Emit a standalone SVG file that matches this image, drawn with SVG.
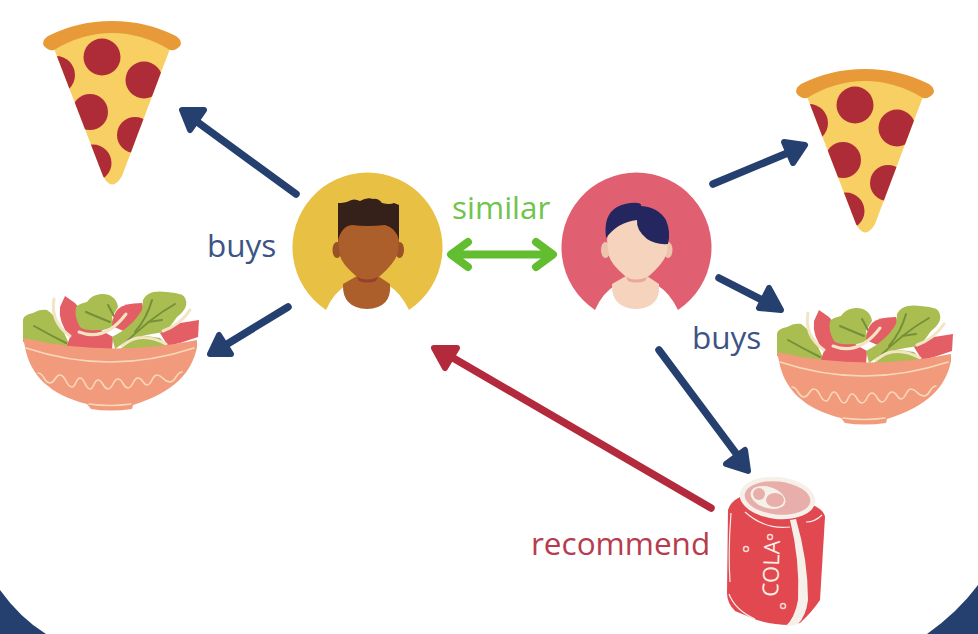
<svg xmlns="http://www.w3.org/2000/svg" width="978" height="634" viewBox="0 0 978 634">
<style>
.lbl{font-family:"Open Sans","Noto Sans",sans-serif;font-size:31.500px}
.blue{fill:#3c5484}
.shaft{fill:none;stroke-width:7.500;stroke-linecap:round}
.head{stroke-width:6;stroke-linejoin:round}
.nv{stroke:#25406f}
.nvf{fill:#25406f}
.rd{stroke:#b32a3c}
.rdf{fill:#b32a3c}
.pep{fill:#ad2c37}
.leaf{fill:#a9bd50}
.vein{fill:none;stroke:#75903a;stroke-width:2;stroke-linecap:round}
.tom{fill:#e35f65}
.cr{fill:none;stroke:#f3e4c4;stroke-width:3;stroke-linecap:round}
.ln{fill:none;stroke:#f8d8bb;stroke-width:1.600;stroke-linecap:round}
.dot{fill:#e2484f;stroke:#f6d9d0;stroke-width:1.500}
</style>
<defs>
<clipPath id="sl"><path d="M53,46 Q112,18 171,46 L122,176 Q112,193 103,176 Z"/></clipPath>
<g id="pizzaShape">
<path d="M53,46 Q112,18 171,46 L122,176 Q112,193 103,176 Z" fill="#f7cf62"/>
<g clip-path="url(#sl)" class="pep">
<circle cx="102" cy="57" r="18.500"/><circle cx="144" cy="80" r="18.500"/><circle cx="90" cy="112" r="18"/><circle cx="135" cy="135" r="18"/><circle cx="56" cy="75" r="19"/><circle cx="93" cy="163" r="18.500"/>
</g>
<path d="M48,36 Q78,21 112,21 Q146,21 176,36 Q183,41 180,46 Q176,51 170,50 Q142,33 112,33 Q82,33 54,50 Q48,51 44,46 Q41,41 48,36 Z" fill="#e89a38"/>
</g>
<g id="saladShape">
<path class="leaf" d="M23,322 C22,316 28,314 33,313 C38,310 43,309 47,310 C56,316 62,326 65,335 L72,350 L23,342 Z"/>
<path class="vein" d="M34,326 Q50,335 66,343"/>
<path class="tom" d="M65,296 L60,307 Q58,322 70,337 L66,348 L112,350 L113,337 Q95,328 85,315 L75,303 Z"/>
<path class="leaf" d="M76,307 C80,303 84,303 87,302 C91,296 97,294 103,294 C110,294 117,298 118,307 L112,317 L114,326 Q105,331 97,330 Q85,331 80,327 Q74,317 76,307 Z"/>
<path class="vein" d="M86,312 Q100,318 110,322 M108,305 L114,316"/>
<path class="tom" d="M112,326 Q113,314 118,309 Q124,303 142,303 L146,318 L128,333 Z"/>
<path class="leaf" d="M143,300 C146,293 154,290 167,292 C176,293 184,294 185,298 C188,304 186,310 177,317 C172,324 168,330 163,332 C150,335 135,335 125,342 L115,349 L112,337 C124,331 135,322 142,310 Z"/>
<path class="vein" d="M175,304 Q150,318 122,346 M152,300 Q147,318 135,332 M162,320 L148,322"/>
<path class="leaf" d="M120,349 L140,335 L160,338 L170,348 Z"/>
<path class="tom" d="M160,333 L180,323 L199,320 L198,337 L180,343 L168,346 Z"/>
<path class="cr" d="M54,299 Q50,322 70,336 M79,332 Q105,342 126,314 M122,346 Q140,330 166,344 M163,331 Q180,325 190,310"/>
<path d="M23,338 Q110,358 197,340 L197,347 C192,372 175,392 133,405 L132,409 Q110,412 91,409 L87,404 C50,395 30,375 25,347 Z" fill="#f29a7c"/>
<path class="ln" d="M26,348 Q110,376 194,348 M89,404 Q110,407 131,404"/>
<path class="ln" d="M38,373 C44,373 44,383 50,383 C55,383 55,375 60,375 C66,375 66,387 72,387 C76,387 76,378 80,378 C85,378 85,389 90,389 C94,389 94,380 98,380 C103,380 103,389 108,389 C113,389 113,379 118,379 C123,379 123,388 128,388 C133,388 133,378 138,378 C143,378 143,385 147,385 C152,385 152,375 157,375 C163,375 163,382 170,382 C176,382 176,372 182,372"/>
</g>
</defs>
<g id="background">
<path d="M0,590 Q20,618 46,634 L0,634 Z" fill="#25406f"/>
<path d="M978,585 Q958,612 927,634 L978,634 Z" fill="#25406f"/>
</g>
<g id="pizza-left"><use href="#pizzaShape"/></g>
<g id="pizza-right"><use href="#pizzaShape" x="753" y="48"/></g>
<g id="salad-left"><use href="#saladShape"/></g>
<g id="salad-right"><use href="#saladShape" x="754" y="14"/></g>
<g id="user-left">
<path d="M326,310 A75,75 0 1 1 409,310 Q401,293 388,285 L347,285 Q334,292 326,310 Z" fill="#e7c044"/>
<path d="M343,284 L357,276 L378,276 L390,284 Q392,308 367,309 Q342,308 343,284 Z" fill="#ad5f2b"/>
<path d="M338,203 Q345,203 349,201 Q354,198 360,201 Q367,197 373,199 Q378,198 382,203 Q390,205 394,203 L399,205 L399,243 L338,243 Z" fill="#36201a"/>
<ellipse cx="337" cy="250" rx="4.500" ry="8" fill="#9a5128"/>
<ellipse cx="399.500" cy="250" rx="4.500" ry="8" fill="#9a5128"/>
<path d="M338,240 Q342,226 352,225 Q367,227 385,225 Q396,228 399,240 L398,252 Q396,262 380,276 Q368,282 356,276 Q342,264 340,256 Z" fill="#ad5f2b"/>
<path d="M357,277 Q367,282 378,277 L376,281 Q367,284 359,281 Z" fill="#94402b"/>
</g>
<g id="user-right">
<path d="M595,310 A75,75 0 1 1 678,310 Q670,293 657,285 L616,285 Q603,292 595,310 Z" fill="#e06071"/>
<path d="M612,284 L626,276 L647,276 L659,284 Q661,308 636,309 Q611,308 612,284 Z" fill="#f5d3bd"/>
<ellipse cx="605.500" cy="250" rx="4.500" ry="8" fill="#ecc4ac"/>
<ellipse cx="668" cy="250" rx="4.500" ry="8" fill="#ecc4ac"/>
<path d="M607,240 Q610,215 636,215 Q664,215 668,240 L667,252 Q665,262 649,276 Q637,282 625,276 Q611,264 609,256 Z" fill="#f5d3bd"/>
<path d="M626,277 Q636,282 647,277 L645,281 Q636,284 628,281 Z" fill="#eca79b"/>
<path d="M606,238 Q603,215 617,207 Q628,202 638,203 Q642,204 641,206 Q658,207 666,220 Q671,232 668,244 Q656,245 647,239 Q636,230 637,220 Q618,222 606,238 Z" fill="#23265f"/>
</g>
<g id="cola-can">
<path d="M728,510 Q730,502 740,497 L813,505 Q824,510 825,517 L820,600 Q812,612 800,623 L790,625 Q772,625 757,620 L735,611 Q727,603 727,593 Z" fill="#e2484f"/>
<path d="M790,520 L796,519 Q808,560 808,600 Q806,616 798,624 L785,627 Q795,618 798,600 Q800,560 790,520 Z" fill="#f6f0ea"/>
<path d="M731,513 Q728,550 730,582 M729,594 Q735,610 755,619 M806,522 Q815,522 822,515 M745,512 Q765,530 790,527" fill="none" stroke="#f6f0ea" stroke-width="1.200"/>
<ellipse cx="777.500" cy="498" rx="38" ry="21" transform="rotate(6 777.500 498)" fill="#f6f0ea"/>
<ellipse cx="777.500" cy="498" rx="33" ry="16.500" transform="rotate(6 777.500 498)" fill="#e8aeaa"/>
<ellipse cx="768" cy="497.500" rx="18" ry="10.500" transform="rotate(18 768 497.500)" fill="#f6f0ea"/>
<circle cx="759" cy="494" r="6" fill="#e8aeaa"/>
<ellipse cx="775" cy="500" rx="9" ry="7" fill="#e8aeaa"/>
<circle class="dot" cx="770" cy="537" r="2.500"/>
<circle class="dot" cx="746" cy="549" r="2.500"/>
<circle class="dot" cx="783" cy="606" r="2.500"/>
<text transform="translate(778,597) rotate(-88)" font-family="'Open Sans',sans-serif" font-size="22" fill="#fbeee6">COLA</text>
</g>
<g id="connectors">
<path class="shaft nv" d="M296,194 L196,121"/>
<path class="head nv nvf" d="M182,110 L204,110 L190,130 Z"/>
<path class="shaft nv" d="M288,307 L224,346"/>
<path class="head nv nvf" d="M210,354 L231,354 L219,335 Z"/>
<path class="shaft nv" d="M713,184 L790,152"/>
<path class="head nv nvf" d="M805,145 L784,142 L793,163 Z"/>
<path class="shaft nv" d="M719,278 L768,303"/>
<path class="head nv nvf" d="M781,310 L769,288 L759,308 Z"/>
<path class="shaft nv" d="M659,350 L738,456"/>
<path class="head nv nvf" d="M748,471 L726,464 L745,450 Z"/>
<path class="shaft rd" d="M711,508 L448,355"/>
<path class="head rd rdf" d="M434,348 L457,348 L445,368 Z"/>
<path d="M453,254.500 L552,254.500 M468,242 L451,254.500 L468,267 M536,242 L553,254.500 L536,267" fill="none" stroke="#62bd30" stroke-width="8" stroke-linecap="round" stroke-linejoin="round"/>
</g>
<g id="labels">
<text class="lbl blue" x="207" y="257">buys</text>
<text class="lbl blue" x="692" y="349">buys</text>
<text class="lbl" x="452" y="219" fill="#71c44b">similar</text>
<text class="lbl" x="531" y="555" fill="#b73c4d">recommend</text>
</g>
</svg>
